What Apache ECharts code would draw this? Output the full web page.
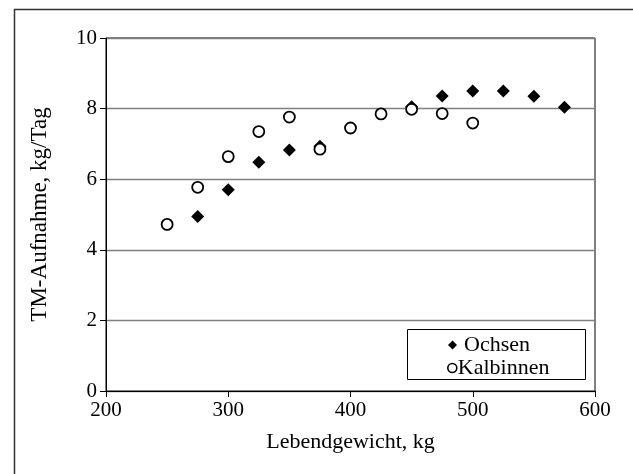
<!DOCTYPE html>
<html>
<head>
<meta charset="utf-8">
<script src="https://cdn.jsdelivr.net/npm/echarts@6/dist/echarts.min.js"></script>
<style>
html,body{margin:0;padding:0;background:#fff;}
#chart{width:633px;height:474px;}
</style>
</head>
<body>
<div id="chart"></div>
<script>
const ochsenX = [275, 300, 325, 350, 375, 450, 475, 500, 525, 550, 575];
const ochsenY = [4.94, 5.70, 6.48, 6.83, 6.93, 8.05, 8.36, 8.50, 8.50, 8.35, 8.04];
const kalbX = [250, 275, 300, 325, 350, 375, 400, 425, 450, 475, 500];
const kalbY = [4.72, 5.77, 6.64, 7.35, 7.76, 6.85, 7.45, 7.85, 7.98, 7.86, 7.59];
const xTicks = [200, 300, 400, 500, 600];
const yTicks = [0, 2, 4, 6, 8, 10];
const seriesNames = ['Ochsen', 'Kalbinnen'];
const xTitle = 'Lebendgewicht, kg';
const yTitle = 'TM-Aufnahme, kg/Tag';

const font = 'Liberation Serif';
const legendText = { fontFamily: font, fontSize: 22, lineHeight: 22, color: '#000' };
const chart = echarts.init(document.getElementById('chart'));
chart.setOption({
  animation: false,
  backgroundColor: '#fff',
  grid: { left: 106, top: 38, width: 489, height: 353, show: true, borderColor: '#000', borderWidth: 1 },
  xAxis: {
    type: 'value', min: xTicks[0], max: xTicks[xTicks.length - 1], interval: 100,
    name: xTitle, nameLocation: 'middle', nameGap: 40,
    nameTextStyle: { fontFamily: font, fontSize: 22, color: '#000' },
    axisLine: { show: true, lineStyle: { color: '#000', width: 1 } },
    axisTick: { show: true, inside: false, length: 6, lineStyle: { color: '#000' } },
    axisLabel: { fontFamily: font, fontSize: 21, color: '#000', margin: 9 },
    splitLine: { show: false }
  },
  yAxis: {
    type: 'value', min: yTicks[0], max: yTicks[yTicks.length - 1], interval: 2,
    name: yTitle, nameLocation: 'middle', nameGap: 55, nameRotate: 90,
    nameTextStyle: { fontFamily: font, fontSize: 23, color: '#000' },
    axisLine: { show: true, lineStyle: { color: '#000', width: 1 } },
    axisTick: { show: true, inside: false, length: 6, lineStyle: { color: '#000' } },
    axisLabel: { fontFamily: font, fontSize: 21, color: '#000', margin: 9 },
    splitLine: { show: true, lineStyle: { color: '#7f7f7f', width: 1.3 } }
  },
  legend: [
    {
      orient: 'vertical', left: 443, top: 329, padding: 5,
      itemWidth: 9, itemHeight: 9,
      textStyle: Object.assign({ padding: [0,0,0,2] }, legendText),
      data: [{ name: seriesNames[0], icon: 'diamond', itemStyle: { color: '#000', borderWidth: 0 } }]
    },
    {
      orient: 'vertical', left: 442, top: 352, padding: 5,
      itemWidth: 9, itemHeight: 9,
      textStyle: Object.assign({ padding: [0,0,0,-4] }, legendText),
      data: [{ name: seriesNames[1], icon: 'circle', itemStyle: { color: '#fff', borderColor: '#000', borderWidth: 1.6 } }]
    }
  ],
  graphic: [
    { type: 'rect', shape: { x: 14.5, y: 9.5, width: 700, height: 600 }, style: { fill: null, stroke: '#333', lineWidth: 1.5 }, silent: true, z: -10 },
    { type: 'rect', shape: { x: 407.5, y: 329.5, width: 178, height: 50 }, style: { fill: '#fff', stroke: '#000', lineWidth: 1 }, z: 1 }
  ],
  series: [
    {
      name: seriesNames[0], type: 'scatter', symbol: 'diamond', symbolSize: 13,
      itemStyle: { color: '#000', opacity: 1 },
      data: ochsenX.map((x, i) => [x, ochsenY[i]]), z: 3
    },
    {
      name: seriesNames[1], type: 'scatter', symbol: 'circle', symbolSize: 11,
      itemStyle: { color: '#fff', borderColor: '#000', borderWidth: 1.8, opacity: 1 },
      data: kalbX.map((x, i) => [x, kalbY[i]]), z: 4
    }
  ]
});
</script>
</body>
</html>
